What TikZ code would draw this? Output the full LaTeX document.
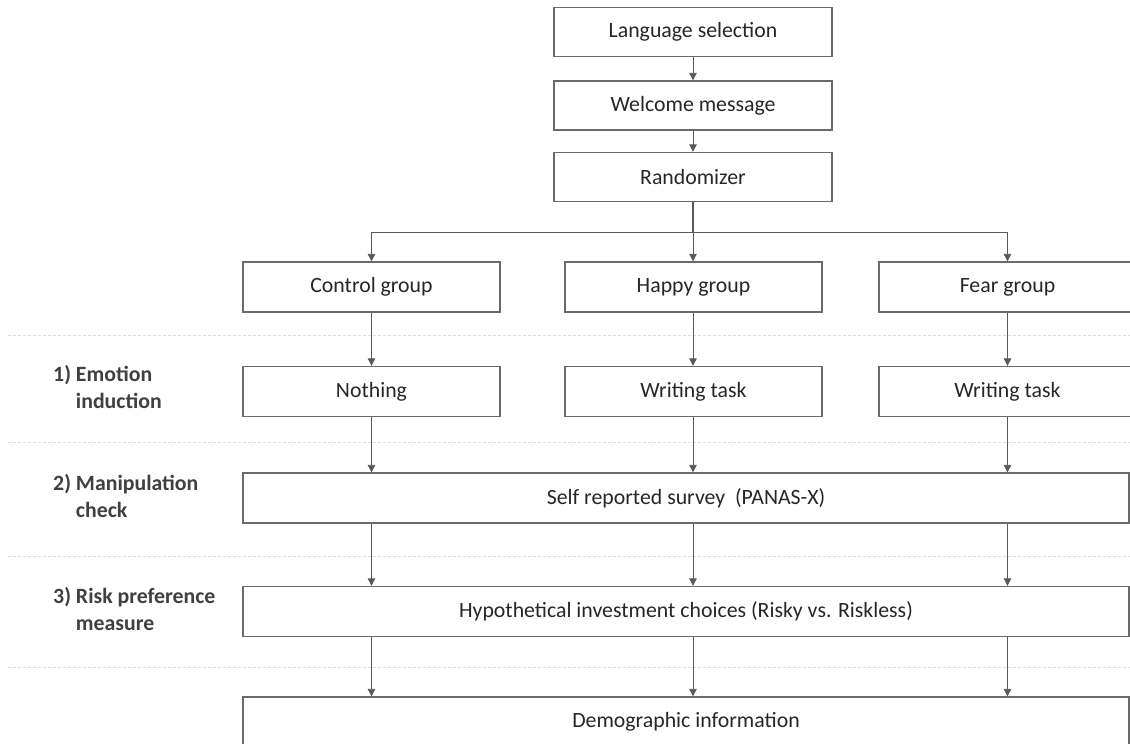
\documentclass[tikz,border=0pt]{standalone}
\usepackage{fontspec}
\setmainfont{Carlito}
\usetikzlibrary{arrows.meta}
\definecolor{boxgray}{HTML}{6A6A6A}
\definecolor{arrgray}{HTML}{595959}
\definecolor{txt}{HTML}{262626}
\definecolor{labtxt}{HTML}{404040}
\definecolor{sepgray}{HTML}{DDDDDD}
\begin{document}
\begin{tikzpicture}[x=1pt,y=-1pt,
  box/.style={draw=boxgray, line width=1.3pt, rectangle, inner sep=0pt,
    text=txt, font=\fontsize{21.8}{26}\selectfont},
  small/.style={box, minimum width=257pt, minimum height=50pt},
  top/.style={box, minimum width=278pt, minimum height=49pt},
  wide/.style={box, minimum width=886pt, minimum height=50pt},
  arr/.style={draw=arrgray, line width=0.8pt, -{Triangle[width=7.5pt,length=7.5pt]}},
  sepline/.style={draw=sepgray, dashed, dash pattern=on 3pt off 2pt, line width=0.6pt},
  lab/.style={anchor=west, align=left, inner sep=0pt, text=labtxt, font=\bfseries\fontsize{21.8}{27}\selectfont}]
\useasboundingbox (0,0) rectangle (1130,744);

% separators
\draw[sepline] (8,335) -- (1130,335);
\draw[sepline] (8,442) -- (1130,442);
\draw[sepline] (8,556) -- (1130,556);
\draw[sepline] (8,667) -- (1130,667);

% top chain
\node[top] (lang) at (693,32) {Language selection};
\node[top] (welc) at (693,105.5) {Welcome message};
\node[top] (rand) at (693,177) {Randomizer};

% groups
\node[small] (ctrl) at (371.5,287) {Control group};
\node[small] (happy) at (693.5,287) {Happy group};
\node[small] (fear) at (1007.5,287) {Fear group};

% emotion induction
\node[small] (noth) at (371.5,391.5) {Nothing};
\node[small] (wrh) at (693.5,391.5) {Writing task};
\node[small] (wrf) at (1007.5,391.5) {Writing task};

% wide boxes
\node[wide] (self) at (686,498) {Self reported survey~~(PANAS-X)};
\node[wide] (hyp) at (686,611.5) {Hypothetical investment choices (Risky vs. Riskless)};
\node[wide] (demo) at (686,722) {Demographic information};

% labels
\node[lab] (l1) at (53,389) {1) Emotion\\\phantom{1)} induction};
\node[lab] (l2) at (53,498) {2) Manipulation\\\phantom{2)} check};
\node[lab] (l3) at (53,611) {3) Risk preference\\\phantom{3)} measure};

% connectors
\draw[arr] (lang.south) -- (welc.north);
\draw[arr] (welc.south) -- (rand.north);
\coordinate (split) at (693,232);
\draw[draw=arrgray, line width=1.3pt] (rand.south) -- (split);
\draw[arr] (split) -| (ctrl.north);
\draw[arr] (split) -| (fear.north);
\draw[arr] (split) -- (happy.north -| split);

\draw[arr] (ctrl.south) -- (noth.north);
\draw[arr] (happy.south -| split) -- (wrh.north -| split);
\draw[arr] (fear.south) -- (wrf.north);

\draw[arr] (noth.south) -- (self.north -| noth.south);
\draw[arr] (wrh.south -| split) -- (self.north -| split);
\draw[arr] (wrf.south) -- (self.north -| wrf.south);

\draw[arr] (self.south -| noth.south) -- (hyp.north -| noth.south);
\draw[arr] (self.south -| split) -- (hyp.north -| split);
\draw[arr] (self.south -| wrf.south) -- (hyp.north -| wrf.south);

\draw[arr] (hyp.south -| noth.south) -- (demo.north -| noth.south);
\draw[arr] (hyp.south -| split) -- (demo.north -| split);
\draw[arr] (hyp.south -| wrf.south) -- (demo.north -| wrf.south);
\end{tikzpicture}
\end{document}
